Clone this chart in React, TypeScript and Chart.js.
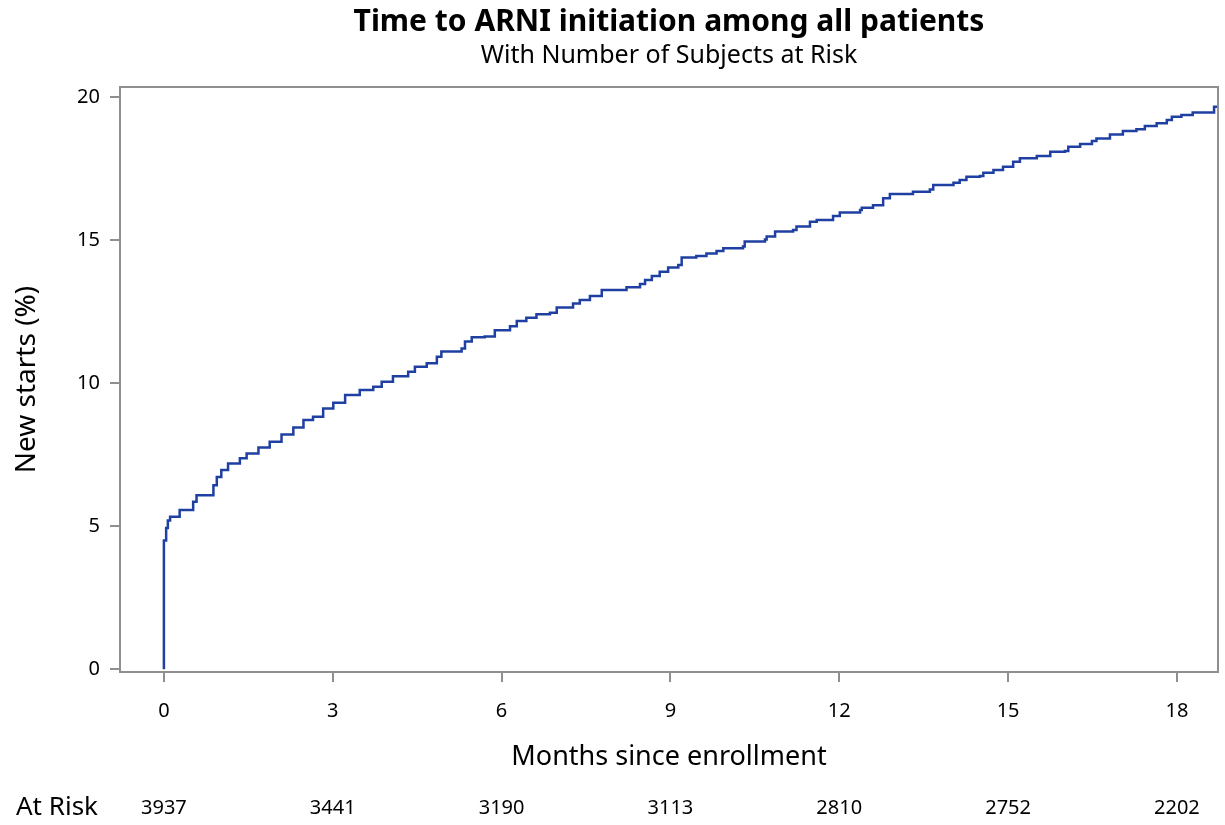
import React, { useEffect, useRef } from "react";
import { Chart, registerables } from "chart.js";

Chart.register(...registerables);

// ---- Data ----
const months = [
  0, 0, 0.04, 0.07, 0.11, 0.28, 0.52, 0.58, 0.88, 0.94, 1.02, 1.14, 1.35, 1.47, 1.68, 1.88,
  2.09, 2.3, 2.48, 2.65, 2.83, 3.01, 3.22, 3.48, 3.72, 3.87, 4.07, 4.34, 4.46, 4.67, 4.85,
  4.93, 5.29, 5.35, 5.47, 5.7, 5.88, 6.15, 6.27, 6.44, 6.62, 6.86, 6.98, 7.27, 7.39, 7.57,
  7.78, 8.22, 8.46, 8.55, 8.67, 8.81, 8.96, 9.14, 9.2, 9.46, 9.64, 9.82, 9.94, 10.29, 10.32,
  10.68, 10.71, 10.86, 11.18, 11.24, 11.48, 11.6, 11.89, 12.01, 12.37, 12.4, 12.6, 12.78,
  12.9, 13.31, 13.61, 13.67, 14.03, 14.14, 14.26, 14.5, 14.56, 14.74, 14.91, 15.09, 15.21,
  15.51, 15.75, 16.01, 16.07, 16.28, 16.49, 16.57, 16.81, 17.04, 17.28, 17.43, 17.64, 17.82,
  17.91, 18.08, 18.28, 18.66, 18.7,
];
const newStartsPct = [
  0, 4.5, 4.93, 5.2, 5.33, 5.56, 5.85, 6.08, 6.43, 6.72, 6.96, 7.19, 7.37, 7.54, 7.75, 7.95,
  8.2, 8.45, 8.71, 8.82, 9.11, 9.31, 9.58, 9.76, 9.87, 10.05, 10.24, 10.4, 10.57, 10.69, 10.92,
  11.1, 11.21, 11.45, 11.6, 11.63, 11.85, 11.99, 12.17, 12.28, 12.41, 12.46, 12.64, 12.78, 12.9, 13.04,
  13.25, 13.35, 13.46, 13.6, 13.74, 13.89, 14.04, 14.13, 14.39, 14.44, 14.53, 14.62, 14.71, 14.77, 14.95,
  15.02, 15.12, 15.3, 15.35, 15.47, 15.64, 15.7, 15.84, 15.96, 16.05, 16.13, 16.22, 16.46,
  16.61, 16.69, 16.77, 16.92, 17.0, 17.1, 17.21, 17.24, 17.35, 17.45, 17.56, 17.74, 17.86,
  17.94, 18.09, 18.11, 18.26, 18.36, 18.46, 18.55, 18.69, 18.81, 18.87, 18.99, 19.08, 19.2,
  19.31, 19.37, 19.46, 19.66, 19.7,
];
const xTickValues = [0, 3, 6, 9, 12, 15, 18];
const yTickValues = [0, 5, 10, 15, 20];
const atRiskCounts = [3937, 3441, 3190, 3113, 2810, 2752, 2202];

const TITLE = "Time to ARNI initiation among all patients";
const SUBTITLE = "With Number of Subjects at Risk";
const X_TITLE = "Months since enrollment";
const Y_TITLE = "New starts (%)";
const AT_RISK_LABEL = "At Risk";

const FONT = "'Noto Sans', 'Open Sans', sans-serif";
const LINE_COLOR = "#1f40a2";
const FRAME_COLOR = "#8f8f8f";

const framePlugin = {
  id: "frame",
  afterDraw(chart: any) {
    const { ctx, chartArea } = chart;
    ctx.save();
    ctx.strokeStyle = FRAME_COLOR;
    ctx.lineWidth = 2;
    ctx.strokeRect(chartArea.left, chartArea.top, chartArea.right - chartArea.left, chartArea.bottom - chartArea.top);
    ctx.restore();
  },
};

const atRiskPlugin = {
  id: "atRisk",
  afterDraw(chart: any) {
    const { ctx } = chart;
    const xs = chart.scales.x;
    const y = 808;
    ctx.save();
    ctx.fillStyle = "#000";
    ctx.textBaseline = "middle";
    ctx.textAlign = "left";
    ctx.font = `26px ${FONT}`;
    ctx.fillText(AT_RISK_LABEL, 16, y);
    ctx.textAlign = "center";
    ctx.font = `20px ${FONT}`;
    xTickValues.forEach((v, i) => {
      ctx.fillText(String(atRiskCounts[i]), xs.getPixelForValue(v), y);
    });
    ctx.restore();
  },
};

export default function App() {
  const ref = useRef<HTMLCanvasElement>(null);
  useEffect(() => {
    const points = months.map((m, i) => ({ x: m, y: newStartsPct[i] }));
    const chart = new Chart(ref.current as HTMLCanvasElement, {
      type: "line",
      data: {
        datasets: [
          {
            data: points,
            borderColor: LINE_COLOR,
            borderWidth: 2.5,
            pointRadius: 0,
            stepped: "before",
            fill: false,
          },
        ],
      },
      options: {
        animation: false,
        responsive: true,
        maintainAspectRatio: false,
        layout: { padding: { left: 0, right: 7, top: 0, bottom: 51.5 } },
        plugins: {
          legend: { display: false },
          tooltip: { enabled: false },
          title: {
            display: true,
            text: TITLE,
            fullSize: false,
            color: "#000",
            font: { family: FONT, size: 30, weight: "bold" },
            padding: { top: 4, bottom: 0 },
          },
          subtitle: {
            display: true,
            text: SUBTITLE,
            fullSize: false,
            color: "#000",
            font: { family: FONT, size: 25, weight: "normal" },
            padding: { top: 1, bottom: 16 },
          },
        },
        scales: {
          x: {
            type: "linear",
            min: -0.78,
            max: 18.73,
            afterBuildTicks: (s: any) => {
              s.ticks = xTickValues.map((v) => ({ value: v }));
            },
            afterFit: (s: any) => {
              s.height = 101.5;
              s.paddingLeft = 0;
              s.paddingRight = 0;
            },
            border: { display: false },
            grid: { drawOnChartArea: false, drawTicks: true, tickLength: 10, color: FRAME_COLOR, lineWidth: 2 },
            ticks: { color: "#000", font: { family: FONT, size: 20 }, padding: 17, maxRotation: 0 },
            title: { display: true, text: X_TITLE, color: "#000", font: { family: FONT, size: 27 }, padding: 0 },
          },
          y: {
            type: "linear",
            min: -0.1,
            max: 20.35,
            afterBuildTicks: (s: any) => {
              s.ticks = yTickValues.map((v) => ({ value: v }));
            },
            afterFit: (s: any) => {
              s.width = 120;
              s.paddingTop = 0;
              s.paddingBottom = 0;
            },
            border: { display: false },
            grid: { drawOnChartArea: false, drawTicks: true, tickLength: 10, color: FRAME_COLOR, lineWidth: 2 },
            ticks: { color: "#000", font: { family: FONT, size: 20 }, padding: 10 },
            title: { display: true, text: Y_TITLE, color: "#000", font: { family: FONT, size: 28 }, padding: { top: 10, bottom: 0 } },
          },
        },
      },
      plugins: [framePlugin, atRiskPlugin],
    });
    return () => chart.destroy();
  }, []);
  return (
    <div style={{ position: "fixed", left: 0, top: 0, width: 1225, height: 825, background: "#fff" }}>
      <canvas ref={ref} />
    </div>
  );
}
